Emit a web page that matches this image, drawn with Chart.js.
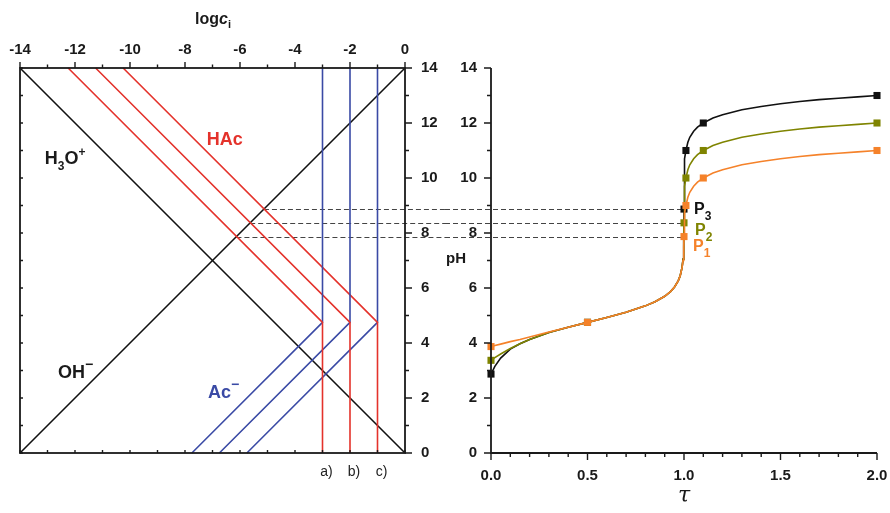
<!DOCTYPE html>
<html>
<head>
<meta charset="utf-8">
<script src="https://cdn.jsdelivr.net/npm/chart.js@4.4.1/dist/chart.umd.min.js"></script>
<style>
  html, body { margin: 0; padding: 0; background: #fff; overflow: hidden; }
  #wrap { position: relative; width: 890px; height: 513px; }
  #left { position: absolute; left: 0; top: 0; }
  #right { position: absolute; left: 445px; top: 0; }
</style>
</head>
<body>
<div id="wrap">
  <canvas id="left" width="445" height="513"></canvas>
  <canvas id="right" width="445" height="513"></canvas>
</div>
<script>
// --------------------
// Left panel: log c vs pH
// --------------------
const pKa = 4.75;
const totalLogc = [-3, -2, -1];              // a) b) c)
const totalLabels = ['a)', 'b)', 'c)'];
const hacAtPH14 = [-12.25, -11.25, -10.25];  // HAc line end at pH 14
const acAtPH0 = [-7.75, -6.75, -5.75];       // Ac- line end at pH 0
const h3oLine = [[-14, 14], [0, 0]];
const ohLine = [[-14, 0], [0, 14]];
const eqPH = [8.87, 8.37, 7.87];             // P3, P2, P1
const eqDashFrom = [-5.13, -5.63, -6.13];

// --------------------
// Right panel: titration curves
// --------------------
const tau = [0, 0.02, 0.05, 0.1, 0.15, 0.2, 0.3, 0.4, 0.5, 0.6, 0.7, 0.8, 0.85, 0.9, 0.93, 0.95, 0.97, 0.98,
  0.99, 0.995, 0.998, 0.999, 1.0, 1.001, 1.002, 1.005, 1.01, 1.02, 1.03, 1.05, 1.07, 1.1, 1.15, 1.2,
  1.3, 1.4, 1.5, 1.6, 1.7, 1.8, 1.9, 2.0];
const pHc1 = [2.87, 3.15, 3.45, 3.78, 3.97, 4.13, 4.38, 4.57, 4.75, 4.93, 5.12, 5.35, 5.50, 5.70, 5.87, 6.03, 6.26, 6.44,
  6.75, 7.05, 7.45, 7.75, 8.87, 10.0, 10.3, 10.7, 11.0, 11.3, 11.48, 11.7, 11.85, 12.0, 12.18, 12.3,
  12.48, 12.6, 12.7, 12.78, 12.85, 12.9, 12.95, 13.0];
const pHc2 = [3.37, 3.47, 3.60, 3.80, 3.97, 4.13, 4.38, 4.57, 4.75, 4.93, 5.12, 5.35, 5.50, 5.70, 5.87, 6.03, 6.26, 6.44,
  6.75, 7.04, 7.42, 7.65, 8.37, 9.0, 9.3, 9.7, 10.0, 10.3, 10.48, 10.7, 10.85, 11.0, 11.18, 11.3,
  11.48, 11.6, 11.7, 11.78, 11.85, 11.9, 11.95, 12.0];
const pHc3 = [3.87, 3.91, 3.96, 4.05, 4.13, 4.22, 4.40, 4.57, 4.75, 4.93, 5.12, 5.35, 5.50, 5.70, 5.87, 6.03, 6.26, 6.44,
  6.74, 7.0, 7.35, 7.5, 7.87, 8.2, 8.45, 8.72, 9.0, 9.3, 9.48, 9.7, 9.85, 10.0, 10.18, 10.3,
  10.48, 10.6, 10.7, 10.78, 10.85, 10.9, 10.95, 11.0];
const tauMarks = [0, 0.5, 1.0, 1.01, 1.1, 2.0];
const marksC1 = [2.87, 4.75, 8.87, 11, 12, 13];
const marksC2 = [3.37, 4.75, 8.37, 10, 11, 12];
const marksC3 = [3.87, 4.75, 7.87, 9, 10, 11];

const FONT = '"Liberation Sans", Arial, Helvetica, sans-serif';
const INK = '#1a1a1a';
const RED = '#e4322b';
const BLUE = '#3a4aa5';
const C1 = '#111111';
const C2 = '#7f8400';
const C3 = '#f5822a';
const DASH = '#444';

Chart.defaults.font.family = FONT;
Chart.defaults.color = INK;

const pts = (xs, ys) => xs.map((x, i) => ({ x: x, y: ys[i] }));
const pairs = (arr) => arr.map(p => ({ x: p[0], y: p[1] }));

// draw a line of text pieces: [text, font, dy]
function drawPieces(ctx, x, y, pieces, color, align) {
    ctx.fillStyle = color;
    ctx.textBaseline = 'alphabetic';
    ctx.textAlign = 'left';
    let w = 0;
    pieces.forEach(p => { ctx.font = p[1]; w += ctx.measureText(p[0]).width; });
    let cx = align === 'center' ? x - w / 2 : x;
    pieces.forEach(p => {
        ctx.font = p[1];
        ctx.fillText(p[0], cx, y + (p[2] || 0));
        cx += ctx.measureText(p[0]).width;
    });
}

// ---------- left chart ----------
const leftDatasets = [];
totalLogc.forEach((lc, i) => {
    leftDatasets.push({
        label: 'HAc ' + totalLabels[i],
        data: [{ x: hacAtPH14[i], y: 14 }, { x: lc, y: pKa }, { x: lc, y: 0 }],
        borderColor: RED
    });
    leftDatasets.push({
        label: 'Ac- ' + totalLabels[i],
        data: [{ x: acAtPH0[i], y: 0 }, { x: lc, y: pKa }, { x: lc, y: 14 }],
        borderColor: BLUE
    });
});
leftDatasets.push({ label: 'H3O+', data: pairs(h3oLine), borderColor: '#111' });
leftDatasets.push({ label: 'OH-', data: pairs(ohLine), borderColor: '#111' });
leftDatasets.forEach(d => Object.assign(d, { showLine: true, pointRadius: 0, borderWidth: 1.6, tension: 0, clip: false }));

const leftDecor = {
    id: 'leftDecor',
    beforeDatasetsDraw(chart) {
        const { ctx, scales: { x, y } } = chart;
        ctx.save();
        ctx.strokeStyle = DASH;
        ctx.lineWidth = 1;
        ctx.setLineDash([5, 3]);
        eqPH.forEach((ph, i) => {
            const py = Math.round(y.getPixelForValue(ph)) + 0.5;
            ctx.beginPath();
            ctx.moveTo(x.getPixelForValue(eqDashFrom[i]), py);
            ctx.lineTo(chart.width, py);
            ctx.stroke();
        });
        ctx.restore();
    },
    afterDraw(chart) {
        const { ctx, chartArea: a, scales: { x, y } } = chart;
        ctx.save();
        ctx.strokeStyle = INK;
        ctx.lineWidth = 1.8;
        ctx.strokeRect(a.left, a.top, a.right - a.left, a.bottom - a.top);
        ctx.lineWidth = 1.4;
        ctx.beginPath();
        for (let v = -14; v <= 0; v++) {
            const px = x.getPixelForValue(v);
            const len = v % 2 === 0 ? 6 : 3.5;
            ctx.moveTo(px, a.top); ctx.lineTo(px, a.top - len);
            ctx.moveTo(px, a.bottom); ctx.lineTo(px, a.bottom - 3);
        }
        for (let v = 0; v <= 14; v++) {
            const py = y.getPixelForValue(v);
            const len = v % 2 === 0 ? 7 : 4;
            ctx.moveTo(a.right, py); ctx.lineTo(a.right + len, py);
            ctx.moveTo(a.left, py); ctx.lineTo(a.left + 3, py);
        }
        ctx.stroke();

        // axis title logc_i
        drawPieces(ctx, 213, 24, [
            ['log', 'bold 16px ' + FONT],
            ['c', 'italic bold 16px ' + FONT],
            ['i', 'bold 11px ' + FONT, 4]
        ], INK, 'center');

        // species labels
        const big = 'bold 18px ' + FONT, small = 'bold 12px ' + FONT;
        drawPieces(ctx, x.getPixelForValue(-6.55), y.getPixelForValue(11.2), [['HAc', big]], RED, 'center');
        drawPieces(ctx, x.getPixelForValue(-13.1), y.getPixelForValue(10.5), [
            ['H', big], ['3', small, 6], ['O', big], ['+', small, -8]
        ], INK);
        drawPieces(ctx, x.getPixelForValue(-12.62), y.getPixelForValue(2.73), [
            ['OH', big], ['\u2212', 'bold 14px ' + FONT, -9]
        ], INK);
        drawPieces(ctx, x.getPixelForValue(-7.16), y.getPixelForValue(2.0), [
            ['Ac', big], ['\u2212', 'bold 14px ' + FONT, -9]
        ], BLUE);

        ctx.font = '14px ' + FONT;
        ctx.fillStyle = '#222';
        ctx.textAlign = 'center';
        ctx.textBaseline = 'middle';
        totalLogc.forEach((lc, i) => ctx.fillText(totalLabels[i], x.getPixelForValue(lc) + 4, a.bottom + 19));
        ctx.restore();
    }
};

new Chart(document.getElementById('left'), {
    type: 'scatter',
    data: { datasets: leftDatasets },
    options: {
        responsive: false,
        animation: false,
        layout: { padding: { left: 20, right: 0, top: 0, bottom: 60 } },
        plugins: { legend: { display: false }, tooltip: { enabled: false } },
        scales: {
            x: {
                type: 'linear', position: 'top', min: -14, max: 0,
                afterFit: (s) => { s.height = 68; },
                grid: { display: false, drawTicks: false },
                border: { display: false },
                ticks: {
                    stepSize: 2, padding: 9, autoSkip: false, maxRotation: 0,
                    font: { size: 15, weight: 'bold' }, color: INK,
                    callback: (v) => String(v)
                }
            },
            y: {
                type: 'linear', position: 'right', min: 0, max: 14,
                afterFit: (s) => { s.width = 40; },
                grid: { display: false, drawTicks: false },
                border: { display: false },
                ticks: {
                    stepSize: 2, padding: 16, autoSkip: false,
                    font: { size: 15, weight: 'bold' }, color: INK
                }
            }
        }
    },
    plugins: [leftDecor]
});

// ---------- right chart ----------
const rightDatasets = [
    { label: 'c3 marks', data: pts(tauMarks, marksC3), color: C3, marks: true, order: 0 },
    { label: 'c3', data: pts(tau, pHc3), color: C3, order: 1 },
    { label: 'c2 marks', data: pts(tauMarks, marksC2), color: C2, marks: true, order: 2 },
    { label: 'c2', data: pts(tau, pHc2), color: C2, order: 3 },
    { label: 'c1 marks', data: pts(tauMarks, marksC1), color: C1, marks: true, order: 4 },
    { label: 'c1', data: pts(tau, pHc1), color: C1, order: 5 }
].map(d => d.marks ? {
    label: d.label, data: d.data, order: d.order, showLine: false, clip: false,
    pointStyle: 'rect', pointRadius: 5, pointBackgroundColor: d.color, pointBorderWidth: 0
} : {
    label: d.label, data: d.data, order: d.order, showLine: true, clip: false,
    pointRadius: 0, borderColor: d.color, borderWidth: 1.6, tension: 0
});

const rightDecor = {
    id: 'rightDecor',
    beforeDatasetsDraw(chart) {
        const { ctx, scales: { x, y } } = chart;
        ctx.save();
        ctx.strokeStyle = DASH;
        ctx.lineWidth = 1;
        ctx.setLineDash([5, 3]);
        eqPH.forEach((ph) => {
            const py = Math.round(y.getPixelForValue(ph)) + 0.5;
            ctx.beginPath();
            ctx.moveTo(0, py);
            ctx.lineTo(x.getPixelForValue(1.0), py);
            ctx.stroke();
        });
        ctx.restore();
    },
    afterDraw(chart) {
        const { ctx, chartArea: a, scales: { x, y } } = chart;
        ctx.save();
        ctx.strokeStyle = INK;
        ctx.lineWidth = 1.8;
        ctx.beginPath();
        ctx.moveTo(a.left, a.top); ctx.lineTo(a.left, a.bottom); ctx.lineTo(a.right, a.bottom);
        ctx.stroke();
        ctx.lineWidth = 1.4;
        ctx.beginPath();
        for (let v = 0; v <= 14; v++) {
            const py = y.getPixelForValue(v);
            ctx.moveTo(a.left, py); ctx.lineTo(a.left - (v % 2 === 0 ? 7 : 4), py);
        }
        for (let k = 0; k <= 20; k++) {
            const px = x.getPixelForValue(k / 10);
            ctx.moveTo(px, a.bottom); ctx.lineTo(px, a.bottom + (k % 5 === 0 ? 7 : 4));
        }
        ctx.stroke();

        // pH title
        drawPieces(ctx, a.left - 35, y.getPixelForValue(7) + 2, [['pH', 'bold 15px ' + FONT]], INK, 'center');
        // tau title
        drawPieces(ctx, x.getPixelForValue(1.0), a.bottom + 49, [['\u03c4', 'italic 22px "DejaVu Serif", "Liberation Serif", serif']], INK, 'center');

        // equivalence points
        const P = 'bold 16px ' + FONT, sub = 'bold 12px ' + FONT;
        const px = x.getPixelForValue(1.0);
        [[eqPH[0], '3', C1, 10], [eqPH[1], '2', C2, 11], [eqPH[2], '1', C3, 9]].forEach(([ph, n, col, dx]) => {
            drawPieces(ctx, px + dx, y.getPixelForValue(ph) + 5 + (n === '3' ? 0 : n === '2' ? 7 : 9), [['P', P], [n, sub, 6]], col);
        });
        ctx.restore();
    }
};

new Chart(document.getElementById('right'), {
    type: 'scatter',
    data: { datasets: rightDatasets },
    options: {
        responsive: false,
        animation: false,
        layout: { padding: { left: 0, right: 13, top: 68, bottom: 0 } },
        plugins: { legend: { display: false }, tooltip: { enabled: false } },
        scales: {
            x: {
                type: 'linear', position: 'bottom', min: 0, max: 2,
                afterFit: (s) => { s.height = 60; s.paddingLeft = 0; s.paddingRight = 0; },
                grid: { display: false, drawTicks: false },
                border: { display: false },
                ticks: {
                    stepSize: 0.5, padding: 14, autoSkip: false, maxRotation: 0,
                    font: { size: 15, weight: 'bold' }, color: INK,
                    callback: (v) => Number(v).toFixed(1)
                }
            },
            y: {
                type: 'linear', position: 'left', min: 0, max: 14,
                afterFit: (s) => { s.width = 46; s.paddingTop = 0; s.paddingBottom = 0; },
                grid: { display: false, drawTicks: false },
                border: { display: false },
                ticks: {
                    stepSize: 2, padding: 14, autoSkip: false,
                    font: { size: 15, weight: 'bold' }, color: INK
                }
            }
        }
    },
    plugins: [rightDecor]
});
</script>
</body>
</html>
